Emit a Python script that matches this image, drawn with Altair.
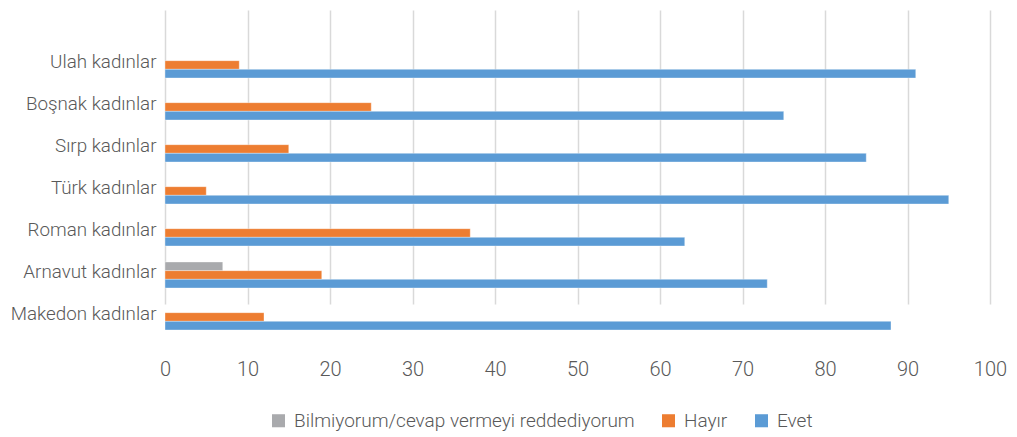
import altair as alt
import pandas as pd

categories = ["Ulah kadınlar", "Boşnak kadınlar", "Sırp kadınlar", "Türk kadınlar",
              "Roman kadınlar", "Arnavut kadınlar", "Makedon kadınlar"]
series = ["Bilmiyorum/cevap vermeyi reddediyorum", "Hayır", "Evet"]
colors = ["#A9AAAD", "#ED7D31", "#5B9BD5"]

bilmiyorum = [None, None, None, None, None, 7, None]
hayir = [9, 25, 15, 5, 37, 19, 12]
evet = [91, 75, 85, 95, 63, 73, 88]

rows = []
for name, vals in zip(series, [bilmiyorum, hayir, evet]):
    for c, v in zip(categories, vals):
        if v is not None:
            rows.append({"cat": c, "series": name, "value": v})
df = pd.DataFrame(rows)

FONT = "Roboto"
TXT = "#595959"

chart = alt.Chart(df).mark_bar(stroke="#ffffff", strokeWidth=0.6, strokeOpacity=0.6).encode(
    x=alt.X("value:Q", scale=alt.Scale(domain=[0, 100], nice=False),
            axis=alt.Axis(values=list(range(0, 101, 10)), title=None, grid=True,
                          gridColor="#D9D9D9", gridWidth=1.5, domain=False, ticks=False,
                          labelFontSize=20, labelColor=TXT, labelFont=FONT,
                          labelPadding=19, labelFontWeight=300, labelFlush=False)),
    y=alt.Y("cat:N", sort=categories,
            scale=alt.Scale(range=[36, 330], paddingInner=0, paddingOuter=0),
            axis=alt.Axis(title=None, domain=False, ticks=False, grid=False,
                          labelFontSize=18.8, labelColor=TXT, labelFont=FONT,
                          labelPadding=9, labelOffset=-3, labelFontWeight=300,
                          labelLimit=200)),
    yOffset=alt.YOffset("series:N", sort=series,
                        scale=alt.Scale(paddingInner=0, paddingOuter=0.92)),
    color=alt.Color("series:N", sort=series,
                    scale=alt.Scale(domain=series, range=colors),
                    legend=alt.Legend(orient="none", legendX=104, legendY=403,
                                      direction="horizontal", title=None,
                                      symbolType="square", symbolSize=170,
                                      symbolStrokeWidth=0,
                                      labelFontSize=19, labelColor=TXT, labelFont=FONT,
                                      labelFontWeight=300, labelOffset=6,
                                      columnPadding=24, labelLimit=500)),
).properties(
    width=825, height=332,
    background="#ffffff",
    autosize=alt.AutoSizeParams(type="none"),
    padding={"left": 157, "top": 0, "right": 18, "bottom": 96},
).configure_view(stroke=None)

chart.save("out.html", embed_options={"renderer": "svg", "actions": False})
